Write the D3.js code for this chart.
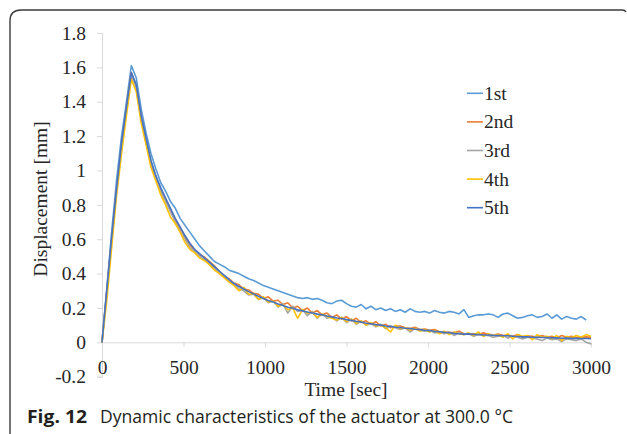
<!DOCTYPE html>
<html>
<head>
<meta charset="utf-8">
<script src="https://cdn.jsdelivr.net/npm/d3@7"></script>
<style>
  body { margin: 0; background: #fff; }
  svg { display: block; }
</style>
</head>
<body>
<script>
// sample times, every 30 sec
const times = d3.range(0, 3001, 30);

const seriesNames = ["1st", "2nd", "3rd", "4th", "5th"];
const seriesColors = ["#5b9bd5", "#ed7d31", "#a5a5a5", "#ffc000", "#4472c4"];

const first = [0,0.32,0.65,0.95,1.20,1.40,1.61,1.54,1.36,1.22,1.10,1.01,0.93,0.88,0.82,0.78,0.72,
  0.68,0.64,0.60,0.56,0.53,0.50,0.47,0.455,0.44,0.42,0.41,0.40,0.385,0.37,0.36,0.345,0.33,0.32,0.31,0.30,
  0.29,0.28,0.27,0.26,0.255,0.26,0.25,0.255,0.245,0.23,0.225,0.24,0.245,0.225,0.21,0.205,0.22,0.195,0.21,0.19,
  0.2,0.185,0.195,0.18,0.19,0.175,0.195,0.18,0.175,0.18,0.17,0.185,0.175,0.17,0.18,0.175,0.165,0.19,0.145,0.155,
  0.16,0.16,0.165,0.16,0.145,0.165,0.17,0.155,0.14,0.145,0.155,0.16,0.145,0.15,0.165,0.14,0.16,0.135,0.15,0.14,
  0.135,0.15,0.13];
const second = [0,0.30,0.61,0.89,1.14,1.36,1.57,1.49,1.31,1.18,1.05,0.96,0.89,0.83,0.77,0.71,0.66,0.61,0.565,0.535,
  0.51,0.495,0.47,0.445,0.41,0.385,0.37,0.345,0.335,0.31,0.305,0.285,0.28,0.255,0.265,0.24,0.245,0.22,0.23,0.2,
  0.21,0.185,0.2,0.17,0.185,0.16,0.17,0.145,0.16,0.135,0.15,0.125,0.14,0.115,0.125,0.105,0.12,0.095,0.105,0.085,
  0.095,0.095,0.085,0.08,0.088,0.075,0.078,0.07,0.075,0.062,0.06,0.058,0.055,0.065,0.05,0.048,0.05,0.045,0.055,0.045,
  0.04,0.048,0.04,0.042,0.035,0.045,0.03,0.038,0.035,0.028,0.04,0.03,0.035,0.025,0.04,0.03,0.035,0.028,0.03,0.032,0.03];
const third = [0,0.30,0.60,0.88,1.13,1.35,1.55,1.48,1.30,1.17,1.04,0.95,0.88,0.82,0.76,0.70,0.65,0.60,0.55,0.53,
  0.50,0.48,0.455,0.43,0.405,0.38,0.355,0.34,0.31,0.30,0.275,0.28,0.25,0.26,0.23,0.24,0.205,0.225,0.17,0.21,
  0.18,0.19,0.155,0.18,0.14,0.165,0.14,0.15,0.125,0.145,0.115,0.135,0.105,0.125,0.1,0.11,0.09,0.105,0.08,0.095,
  0.085,0.075,0.085,0.06,0.08,0.07,0.065,0.07,0.055,0.06,0.05,0.06,0.04,0.055,0.045,0.05,0.035,0.045,0.04,0.04,
  0.03,0.035,0.04,0.025,0.035,0.03,0.02,0.03,0.025,0.02,0.01,0.025,0.015,0.02,0.005,0.02,0.015,0.01,0.02,0.0,-0.01];
const fourth = [0,0.25,0.56,0.86,1.10,1.32,1.53,1.46,1.28,1.15,1.02,0.94,0.86,0.80,0.73,0.69,0.64,0.58,0.54,0.52,
  0.49,0.475,0.45,0.42,0.40,0.375,0.35,0.33,0.30,0.32,0.28,0.285,0.25,0.265,0.235,0.24,0.21,0.22,0.19,0.2,
  0.14,0.19,0.17,0.175,0.145,0.165,0.15,0.14,0.13,0.145,0.12,0.135,0.11,0.125,0.1,0.115,0.095,0.1,0.085,0.06,
  0.1,0.08,0.085,0.07,0.08,0.065,0.075,0.06,0.07,0.05,0.065,0.045,0.06,0.05,0.045,0.055,0.04,0.06,0.035,0.05,
  0.04,0.045,0.03,0.05,0.02,0.045,0.035,0.04,0.015,0.045,0.03,0.035,0.02,0.04,0.01,0.035,0.025,0.04,0.03,0.045,0.035];
const fifth = [0,0.31,0.62,0.90,1.16,1.37,1.57,1.50,1.32,1.19,1.06,0.97,0.90,0.84,0.78,0.72,0.67,0.62,0.575,0.54,
  0.515,0.49,0.465,0.44,0.415,0.39,0.365,0.342,0.325,0.31,0.295,0.282,0.268,0.255,0.243,0.235,0.223,0.215,0.204,0.198,
  0.189,0.183,0.176,0.171,0.164,0.16,0.153,0.148,0.142,0.139,0.132,0.128,0.122,0.118,0.111,0.108,0.103,0.1,0.095,0.093,
  0.088,0.086,0.082,0.08,0.076,0.074,0.07,0.068,0.064,0.062,0.058,0.056,0.052,0.05,0.048,0.049,0.046,0.046,0.043,0.043,
  0.041,0.04,0.038,0.038,0.035,0.034,0.032,0.032,0.03,0.03,0.028,0.028,0.026,0.026,0.024,0.025,0.023,0.023,0.022,0.022,0.021];

const xTicks = [0, 500, 1000, 1500, 2000, 2500, 3000];
const yTicks = [-0.2, 0, 0.2, 0.4, 0.6, 0.8, 1, 1.2, 1.4, 1.6, 1.8];

function main() {
  const width = 627, height = 434;
  const serif = "'Liberation Serif', 'Times New Roman', serif";
  const axisColor = "#d9d9d9";

  const svg = d3.select("body").append("svg")
    .attr("width", width)
    .attr("height", height);

  // frame with rounded top-left corner
  svg.append("path")
    .attr("d", "M10,434 L10,21 Q10,10 21,10 L622,10 Q625,10 626,12")
    .attr("fill", "none")
    .attr("stroke", "#3c3c3c")
    .attr("stroke-width", 1.4);

  const x = d3.scaleLinear().domain([0, 3000]).range([102, 591]);
  const y = d3.scaleLinear().domain([-0.2, 1.8]).range([376.7, 33]);

  // y axis
  const yAxis = svg.append("g")
    .attr("transform", `translate(${x(0)},0)`)
    .call(d3.axisLeft(y).tickValues(yTicks).tickSize(5).tickPadding(11)
      .tickFormat(d => String(+d.toFixed(1))));
  yAxis.select(".domain").attr("stroke", axisColor);
  yAxis.selectAll(".tick line").attr("stroke", axisColor);
  yAxis.selectAll("text")
    .attr("font-family", serif)
    .attr("font-size", 19.5)
    .attr("fill", "#262626");

  // x axis sits at y = 0
  const xAxis = svg.append("g")
    .attr("transform", `translate(0,${y(0)})`)
    .call(d3.axisBottom(x).tickValues(xTicks).tickSize(5).tickSizeOuter(0).tickPadding(13)
      .tickFormat(d => String(d)));
  xAxis.select(".domain").attr("stroke", axisColor);
  xAxis.selectAll(".tick line").attr("stroke", axisColor);
  xAxis.selectAll("text")
    .attr("font-family", serif)
    .attr("font-size", 19.5)
    .attr("fill", "#262626");

  // series
  const allSeries = [first, second, third, fourth, fifth];
  const line = d3.line()
    .x(d => x(d[0]))
    .y(d => y(d[1]));

  svg.append("g")
    .selectAll("path")
    .data(allSeries)
    .join("path")
      .attr("d", vals => line(vals.map((v, i) => [times[i], v])))
      .attr("fill", "none")
      .attr("stroke", (d, i) => seriesColors[i])
      .attr("stroke-width", 1.6)
      .attr("stroke-linejoin", "round");

  // legend
  const legend = svg.append("g")
    .selectAll("g")
    .data(seriesNames)
    .join("g")
      .attr("transform", (d, i) => `translate(467,${93.3 + i * 28.6})`);
  legend.append("line")
    .attr("x1", 0).attr("x2", 16)
    .attr("stroke", (d, i) => seriesColors[i])
    .attr("stroke-width", 1.6);
  legend.append("text")
    .attr("x", 17)
    .attr("dy", "0.33em")
    .attr("font-family", serif)
    .attr("font-size", 19.5)
    .attr("fill", "#262626")
    .text(d => d);

  // axis titles
  svg.append("text")
    .attr("x", 346).attr("y", 396)
    .attr("text-anchor", "middle")
    .attr("font-family", serif)
    .attr("font-size", 19.5)
    .attr("fill", "#262626")
    .text("Time [sec]");

  svg.append("text")
    .attr("transform", "translate(47,199) rotate(-90)")
    .attr("text-anchor", "middle")
    .attr("font-family", serif)
    .attr("font-size", 19.5)
    .attr("fill", "#262626")
    .text("Displacement [mm]");

  // caption
  const sans = "'Open Sans', 'Noto Sans', sans-serif";
  svg.append("text")
    .attr("x", 27).attr("y", 423)
    .attr("font-family", sans)
    .attr("font-size", 18)
    .attr("font-weight", "bold")
    .attr("fill", "#231f20")
    .attr("textLength", 60)
    .attr("lengthAdjust", "spacingAndGlyphs")
    .text("Fig. 12");
  svg.append("text")
    .attr("x", 100).attr("y", 423)
    .attr("font-family", sans)
    .attr("font-size", 17.5)
    .attr("fill", "#231f20")
    .attr("textLength", 413)
    .attr("lengthAdjust", "spacingAndGlyphs")
    .text("Dynamic characteristics of the actuator at 300.0 °C");
}

window.addEventListener("load", main);
</script>
</body>
</html>
